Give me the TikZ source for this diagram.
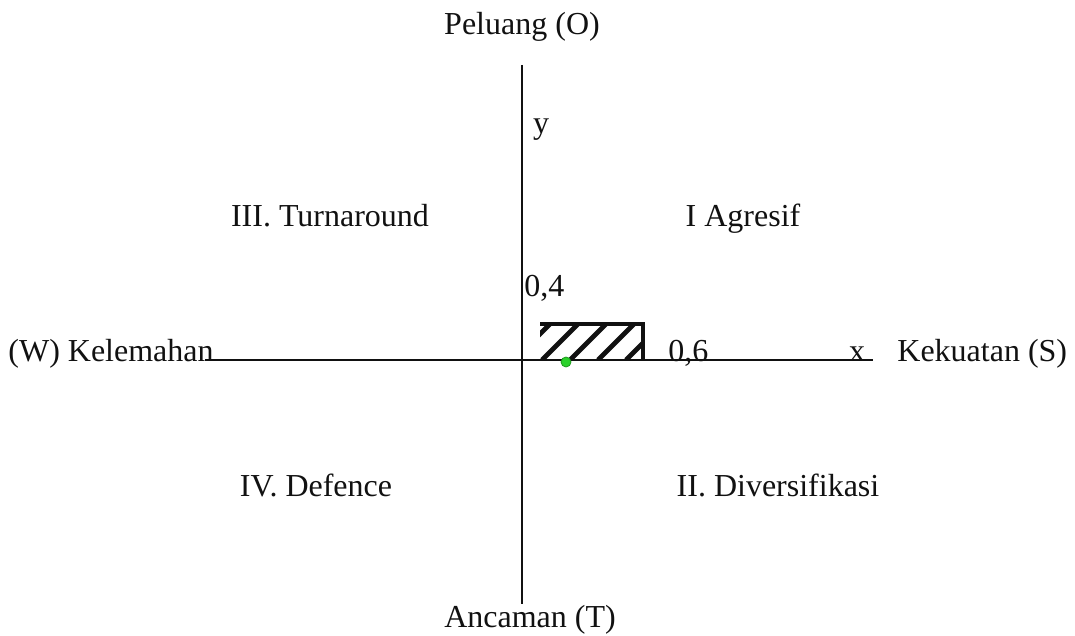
\documentclass[tikz,border=0pt]{standalone}
\usepackage{fontspec}
\setmainfont{Liberation Serif}
\usepackage{xcolor}
\definecolor{swotink}{HTML}{111111}
\definecolor{swotdot}{HTML}{2BD12B}
\definecolor{swotdotedge}{HTML}{1E9A1E}

\begin{document}
\begin{tikzpicture}[x=0.5pt, y=-0.5pt,
                    every node/.style={swotink, font=\fontsize{16}{19}\selectfont, inner sep=0pt}]

  \useasboundingbox (0,0) rectangle (1075,636);

  %% titik ujung sumbu
  \coordinate (ytop) at (522,65);
  \coordinate (ybot) at (522,604);
  \coordinate (xleft) at (205,360);
  \coordinate (xright) at (873,360);

  %% daerah posisi (arsiran)
  \begin{scope}
    \clip (540,324) rectangle (642,360);
    \foreach \s in {514,542,570,598,626}
      \draw[swotink, line width=2.4pt] (\s,360) -- ++(36,-36);
  \end{scope}
  \draw[swotink, line width=2.4pt] (540,324) -- (643,324) -- (643,360);

  %% sumbu x dan y
  \draw[swotink, line width=1pt] (ytop) -- (ybot);
  \draw[swotink, line width=1pt] (xleft) -- (xright);

  %% titik koordinat
  \fill[swotdot, draw=swotdotedge, line width=0.4pt] (566,362) circle (5);

  %% label sumbu
  \node[anchor=base] (peluang) at (522,35) {Peluang (O)};
  \node[anchor=base] (ancaman) at (530,627) {Ancaman (T)};
  \node[anchor=base west] (kelemahan) at (8,361) {(W) Kelemahan};
  \node[anchor=base west] (kekuatan) at (897,361) {Kekuatan (S)};
  \node[anchor=base] (xlab) at (857,361) {x};
  \node[anchor=base] (ylab) at (541,134) {y};
  \node[anchor=base west] (nilaix) at (668,361) {0,6};
  \node[anchor=base west] (nilaiy) at (524,296) {0,4};

  %% kuadran
  \node[anchor=base] (kuadrani) at (743,227) {I Agresif};
  \node[anchor=base] (kuadranii) at (778,496) {II. Diversifikasi};
  \node[anchor=base] (kuadraniii) at (330,227) {III. Turnaround};
  \node[anchor=base] (kuadraniv) at (316,496) {IV. Defence};

\end{tikzpicture}
\end{document}
